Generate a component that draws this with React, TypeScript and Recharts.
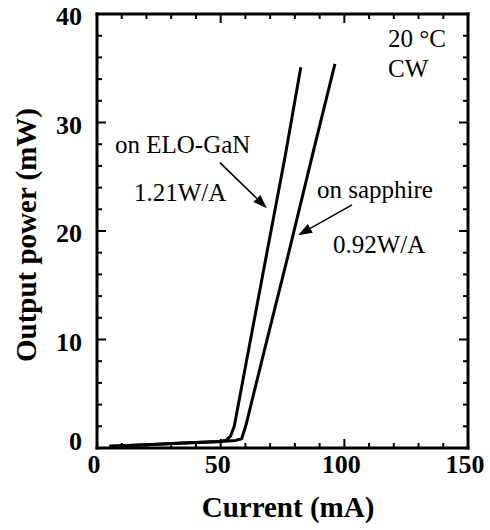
import React from "react";
import {
  LineChart,
  Line,
  XAxis,
  YAxis,
  ReferenceLine,
  Customized,
} from "recharts";

const SERIF = "Liberation Serif, Times New Roman, serif";

// L-I curves, current in mA, output power in mW
const eloCurrent = [5, 20, 35, 50, 52.5, 54, 55.5, 62, 68.9, 76, 82.4];
const eloPower = [0.15, 0.3, 0.45, 0.6, 0.75, 1.1, 2.0, 9.9, 18.25, 26.8, 35.1];

const sapphireCurrent = [5, 20, 35, 50, 56, 58.5, 60.1, 68, 77.8, 87, 96.2];
const sapphirePower = [0.15, 0.3, 0.45, 0.6, 0.7, 0.85, 2.0, 9.3, 18.25, 26.9, 35.4];

const X_TICKS = [0, 10, 20, 30, 40, 50, 60, 70, 80, 90, 100, 110, 120, 130, 140, 150];
const Y_TICKS = [0, 2, 4, 6, 8, 10, 12, 14, 16, 18, 20, 22, 24, 26, 28, 30, 32, 34, 36, 38, 40];

// annotation arrows (tail -> head) in data units
const eloArrow = [{ x: 49.7, y: 26.3 }, { x: 68.7, y: 22.1 }];
const sapphireArrow = [{ x: 103.1, y: 22.4 }, { x: 81.3, y: 19.6 }];

const eloData = eloCurrent.map((c, i) => ({ current: c, power: eloPower[i] }));
const sapphireData = sapphireCurrent.map((c, i) => ({ current: c, power: sapphirePower[i] }));

const AXIS_LINE = { stroke: "#000", strokeWidth: 3, strokeLinecap: "square" as const };
const TICK_FONT = { fontFamily: SERIF, fontWeight: 700, fontSize: 26 };
const NOTE_FONT = { fontFamily: SERIF, fontSize: 25 };
const TITLE_FONT = { fontFamily: SERIF, fontWeight: 700, fontSize: 29 };

const tickLen = (major: boolean) => (major ? 9 : 5);

const BottomTick = ({ x, y, payload }: any) => {
  const v = payload.value;
  const major = v % 50 === 0;
  return (
    <g>
      <line x1={x} y1={y} x2={x} y2={y - tickLen(major)} stroke="#000" strokeWidth={2} />
      {major && (
        <text x={x - 3} y={y + 25} textAnchor="middle" style={TICK_FONT} fill="#000">
          {v}
        </text>
      )}
    </g>
  );
};

const LeftTick = ({ x, y, payload }: any) => {
  const v = payload.value;
  const major = v % 10 === 0;
  return (
    <g>
      <line x1={x} y1={y} x2={x + tickLen(major)} y2={y} stroke="#000" strokeWidth={2} />
      {major && (
        <text x={x - 15} y={v === 0 ? y + 2 : y + 11} textAnchor="end" style={TICK_FONT} fill="#000">
          {v}
        </text>
      )}
    </g>
  );
};

// inward tick on the top edge of the frame
const topTick = (major: boolean) => (props: any) => {
  const { x1, y1, y2 } = props;
  const top = Math.min(y1, y2);
  return <line x1={x1} y1={top} x2={x1} y2={top + tickLen(major)} stroke="#000" strokeWidth={2} />;
};

// inward tick on the right edge of the frame
const rightTick = (major: boolean) => (props: any) => {
  const { x1, x2, y1 } = props;
  const right = Math.max(x1, x2);
  return <line x1={right} y1={y1} x2={right - tickLen(major)} y2={y1} stroke="#000" strokeWidth={2} />;
};

const Arrow = (props: any) => {
  const { x1, y1, x2, y2 } = props;
  const ang = Math.atan2(y2 - y1, x2 - x1);
  const len = 14;
  const half = 5;
  const bx = x2 - len * Math.cos(ang);
  const by = y2 - len * Math.sin(ang);
  const px = -Math.sin(ang) * half;
  const py = Math.cos(ang) * half;
  return (
    <g>
      <line x1={x1} y1={y1} x2={bx} y2={by} stroke="#000" strokeWidth={1.5} />
      <polygon points={`${x2},${y2} ${bx + px},${by + py} ${bx - px},${by - py}`} fill="#000" />
    </g>
  );
};

const Notes = () => (
  <g fill="#000">
    <text x={115} y={153} style={NOTE_FONT}>on ELO-GaN</text>
    <text x={134} y={201} style={NOTE_FONT}>1.21W/A</text>
    <text x={317} y={198} style={NOTE_FONT}>on sapphire</text>
    <text x={333} y={253} style={NOTE_FONT}>0.92W/A</text>
    <text x={388} y={47} style={NOTE_FONT}>20 °C</text>
    <text x={388} y={77} style={NOTE_FONT}>CW</text>
    <text x={288} y={517} style={TITLE_FONT} textAnchor="middle">Current (mA)</text>
    <text x={36} y={235} style={TITLE_FONT} textAnchor="middle" transform="rotate(-90 36 235)">
      Output power (mW)
    </text>
  </g>
);

export default function App() {
  return (
    <div style={{ width: 490, height: 530, background: "#fff" }}>
      <style>{"body{margin:0}"}</style>
      <LineChart width={490} height={530} margin={{ top: 14, right: 22, bottom: 0, left: 0 }}>
        <XAxis
          type="number"
          dataKey="current"
          domain={[0, 150]}
          ticks={X_TICKS}
          interval={0}
          allowDataOverflow
          height={82}
          tickSize={0}
          tickMargin={0}
          tickLine={false}
          axisLine={AXIS_LINE}
          tick={<BottomTick />}
        />
        <YAxis
          type="number"
          domain={[0, 40]}
          ticks={Y_TICKS}
          interval={0}
          allowDataOverflow
          width={97}
          tickSize={0}
          tickMargin={0}
          tickLine={false}
          axisLine={AXIS_LINE}
          tick={<LeftTick />}
        />
        <ReferenceLine y={40} stroke="#000" strokeWidth={3} strokeLinecap="square" ifOverflow="visible" />
        <ReferenceLine x={150} stroke="#000" strokeWidth={3} strokeLinecap="square" ifOverflow="visible" />
        {X_TICKS.slice(1, -1).map((v) => (
          <ReferenceLine key={`tx${v}`} x={v} shape={topTick(v % 50 === 0)} ifOverflow="visible" />
        ))}
        {Y_TICKS.slice(1, -1).map((v) => (
          <ReferenceLine key={`ry${v}`} y={v} shape={rightTick(v % 10 === 0)} ifOverflow="visible" />
        ))}
        <Line
          data={eloData}
          dataKey="power"
          type="linear"
          stroke="#000"
          strokeWidth={3}
          strokeLinejoin="round"
          dot={false}
          isAnimationActive={false}
        />
        <Line
          data={sapphireData}
          dataKey="power"
          type="linear"
          stroke="#000"
          strokeWidth={3}
          strokeLinejoin="round"
          dot={false}
          isAnimationActive={false}
        />
        <ReferenceLine segment={eloArrow} shape={Arrow} ifOverflow="visible" />
        <ReferenceLine segment={sapphireArrow} shape={Arrow} ifOverflow="visible" />
        <Customized component={Notes} />
      </LineChart>
    </div>
  );
}
